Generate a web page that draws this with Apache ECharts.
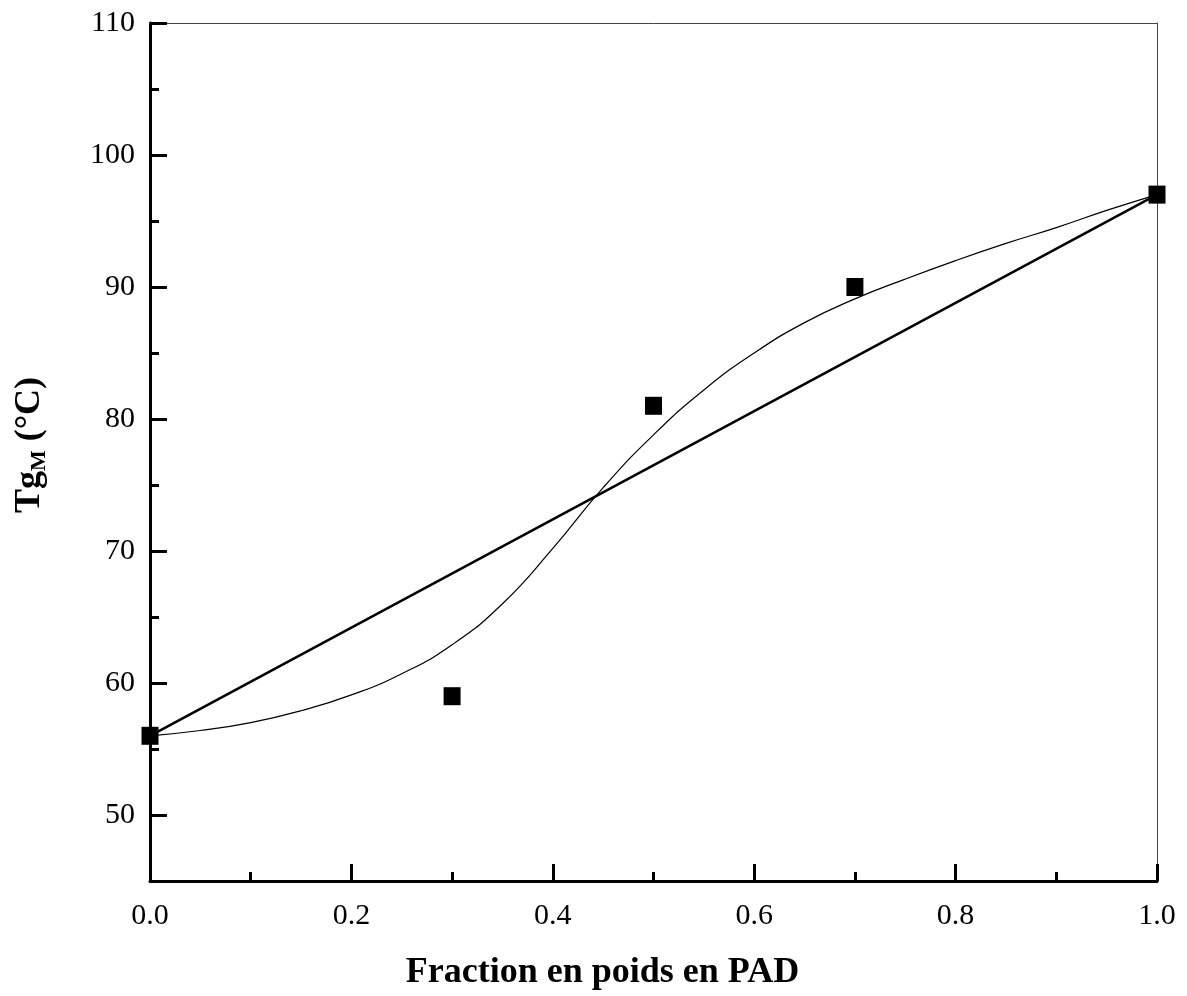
<!DOCTYPE html>
<html>
<head>
<meta charset="utf-8">
<script src="https://cdn.jsdelivr.net/npm/echarts@6/dist/echarts.min.js"></script>
<style>
  html, body { margin: 0; padding: 0; background: #fff; }
  #myChart { width: 1187px; height: 996px; }
</style>
</head>
<body>
<div id="myChart"></div>
<script>
// mesures
const fracPAD = [0, 0.3, 0.5, 0.7, 1.0]
const tgMeasured = [56, 59, 81, 90, 97]

// droite reliant les deux homopolymeres
const lineX = [0, 1.0]
const lineY = [56, 97]

// courbe d'ajustement
const fitX = [0, 0.05, 0.1, 0.15, 0.2, 0.25, 0.3, 0.35, 0.4, 0.45, 0.5, 0.55, 0.6, 0.65, 0.7, 0.75, 0.8, 0.85, 0.9, 0.95, 1.0]
const fitY = [56.0, 56.4, 57.0, 57.9, 59.1, 60.7, 62.9, 66.0, 70.2, 74.8, 78.8, 82.2, 85.0, 87.3, 89.1, 90.6, 92.0, 93.3, 94.5, 95.8, 97.0]

const yMajor = [50, 60, 70, 80, 90, 100, 110]
const yMinor = [55, 65, 75, 85, 95, 105]

const font = 'Liberation Serif'

function pairs (xs, ys) {
  return xs.map((x, i) => [x, ys[i]])
}

let myChart = echarts.init(document.getElementById('myChart'))

let option = {
  animation: false,
  grid: { left: 150, right: 30, top: 23, bottom: 113 },
  xAxis: [{
    type: 'value',
    position: 'bottom',
    min: 0,
    max: 1,
    interval: 0.2,
    name: 'Fraction en poids en PAD',
    nameLocation: 'middle',
    nameGap: 74,
    nameTextStyle: {
      fontFamily: font, fontSize: 36, fontWeight: 'bold', color: '#000',
      padding: [0, 102, 0, 0]
    },
    axisLine: { onZero: false, lineStyle: { color: '#000', width: 3 } },
    axisTick: { inside: true, length: 17, lineStyle: { color: '#000', width: 3 } },
    minorTick: { show: true, splitNumber: 2, length: 9, lineStyle: { color: '#000', width: 3 } },
    axisLabel: {
      fontFamily: font, fontSize: 30, color: '#000', margin: 20,
      formatter: v => v.toFixed(1)
    },
    splitLine: { show: false }
  }, {
    type: 'value',
    position: 'top',
    min: 0,
    max: 1,
    axisLine: { onZero: false, lineStyle: { color: '#444', width: 1 } },
    axisTick: { show: false },
    axisLabel: { show: false },
    splitLine: { show: false }
  }],
  yAxis: [{
    type: 'value',
    position: 'left',
    min: 45,
    max: 110,
    name: '{a|Tg}{s|M}{a| (°C)}',
    nameLocation: 'middle',
    nameRotate: 90,
    nameGap: 100,
    nameTextStyle: {
      color: '#000',
      padding: [0, 0, 0, 14],
      rich: {
        a: { fontFamily: font, fontSize: 36, fontWeight: 'bold', color: '#000', lineHeight: 40 },
        s: { fontFamily: font, fontSize: 22, fontWeight: 'bold', color: '#000', verticalAlign: 'bottom', lineHeight: 22 }
      }
    },
    axisLine: { onZero: false, lineStyle: { color: '#000', width: 3 } },
    axisTick: { inside: true, length: 17, customValues: yMajor, lineStyle: { color: '#000', width: 3 } },
    axisLabel: { fontFamily: font, fontSize: 30, color: '#000', margin: 15, customValues: yMajor },
    splitLine: { show: false }
  }, {
    type: 'value',
    position: 'left',
    min: 45,
    max: 110,
    axisLine: { show: false },
    axisTick: { inside: true, length: 9, customValues: yMinor, lineStyle: { color: '#000', width: 3 } },
    axisLabel: { show: false },
    splitLine: { show: false }
  }, {
    type: 'value',
    position: 'right',
    min: 45,
    max: 110,
    axisLine: { onZero: false, lineStyle: { color: '#444', width: 1 } },
    axisTick: { show: false },
    axisLabel: { show: false },
    splitLine: { show: false }
  }],
  series: [{
    name: 'droite',
    type: 'line',
    data: pairs(lineX, lineY),
    symbol: 'none',
    lineStyle: { color: '#000', width: 2.5 },
    z: 2
  }, {
    name: 'ajustement',
    type: 'line',
    data: pairs(fitX, fitY),
    symbol: 'none',
    smooth: 0.5,
    lineStyle: { color: '#000', width: 1.2 },
    z: 2
  }, {
    name: 'Tg mesuree',
    type: 'scatter',
    data: pairs(fracPAD, tgMeasured),
    symbol: 'rect',
    symbolSize: [17, 18],
    itemStyle: { color: '#000', opacity: 1 },
    z: 3
  }]
}

myChart.setOption(option)
</script>
</body>
</html>
